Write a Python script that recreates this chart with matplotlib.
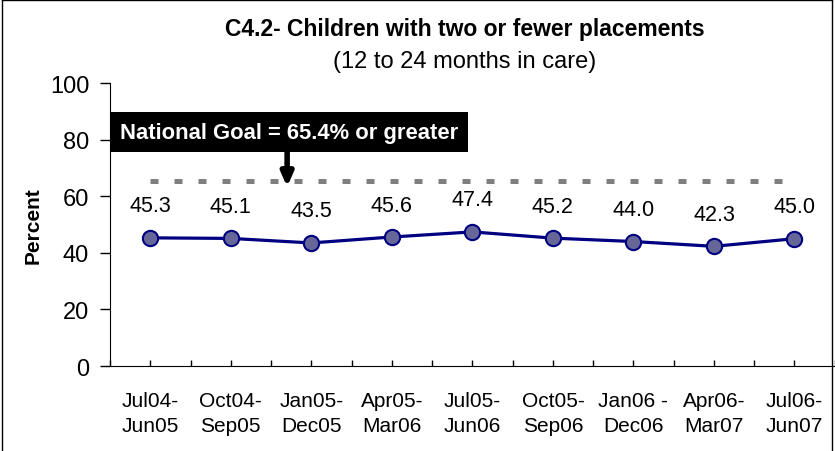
import matplotlib
matplotlib.use('Agg')
import matplotlib.pyplot as plt
from matplotlib.lines import Line2D
from matplotlib.patches import Rectangle

plt.rcParams['font.family'] = ['Liberation Sans', 'DejaVu Sans']

# data
periods = ['Jul04-\nJun05', 'Oct04-\nSep05', 'Jan05-\nDec05', 'Apr05-\nMar06',
           'Jul05-\nJun06', 'Oct05-\nSep06', 'Jan06 -\nDec06', 'Apr06-\nMar07',
           'Jul06-\nJun07']
percent = [45.3, 45.1, 43.5, 45.6, 47.4, 45.2, 44.0, 42.3, 45.0]
goal = 65.4
goal_text = 'National Goal = 65.4% or greater'

fig = plt.figure(figsize=(8.35, 4.52), dpi=100)
ax = fig.add_axes([0.1317, 0.188, 0.868, 0.626])

x = list(range(len(percent)))

# goal line
ax.plot(x, [goal] * len(x), color='#808080', lw=3.6, dashes=(1.6, 3.2),
        solid_capstyle='butt', dash_capstyle='butt', zorder=2)

# main series
ax.plot(x, percent, color='#000080', lw=2.3, marker='o', ms=11,
        mfc='#666699', mec='#000080', mew=1.5, zorder=3)
for xi, v in zip(x, percent):
    ax.annotate(f'{v:.1f}', (xi, v), xytext=(0, 23), textcoords='offset points',
                ha='center', va='center', fontsize=15.5)

ax.set_xlim(-0.5, len(x) - 0.5)
ax.set_ylim(0, 100)
ax.set_yticks(range(0, 101, 20))
ax.set_xticks(x)
ax.set_xticklabels(periods, fontsize=15, linespacing=1.42)
ax.set_xticks([i - 0.5 for i in range(len(x) + 1)], minor=True)
ax.tick_params(axis='y', labelsize=17, direction='out', length=7, width=1, pad=8)
ax.tick_params(axis='x', which='both', direction='in', length=4, width=1, pad=18)

for s in ['top', 'right']:
    ax.spines[s].set_visible(False)

ax.set_ylabel('Percent', fontsize=15, fontweight='bold', labelpad=5)

# goal box + arrow
ax.add_patch(Rectangle((-0.5, 75.6), 4.44, 14.1, transform=ax.transData,
                       facecolor='black', edgecolor='none', clip_on=False, zorder=5))
ax.text(1.72, 82.7, goal_text, color='white', fontsize=15.8, fontweight='bold',
        ha='center', va='center', zorder=6)
ax.annotate('', xy=(1.70, 63.3), xytext=(1.70, 75.6),
            arrowprops=dict(arrowstyle='-|>,head_width=0.35,head_length=0.8',
                            color='black', lw=4, shrinkA=0, shrinkB=0), zorder=6)

# titles
fig.text(0.557, 0.934, 'C4.2- Children with two or fewer placements',
         ha='center', va='center', fontsize=16.5, fontweight='bold')
fig.text(0.557, 0.863, '(12 to 24 months in care)', ha='center', va='center',
         fontsize=17)

# outer frame
fig.add_artist(Line2D([0.002, 0.002], [0, 0.998], color='black', lw=1))
fig.add_artist(Line2D([0.002, 0.997], [0.998, 0.998], color='black', lw=1))
fig.add_artist(Line2D([0.997, 0.997], [0, 0.998], color='black', lw=1))

fig.savefig('out.png', dpi=100)
